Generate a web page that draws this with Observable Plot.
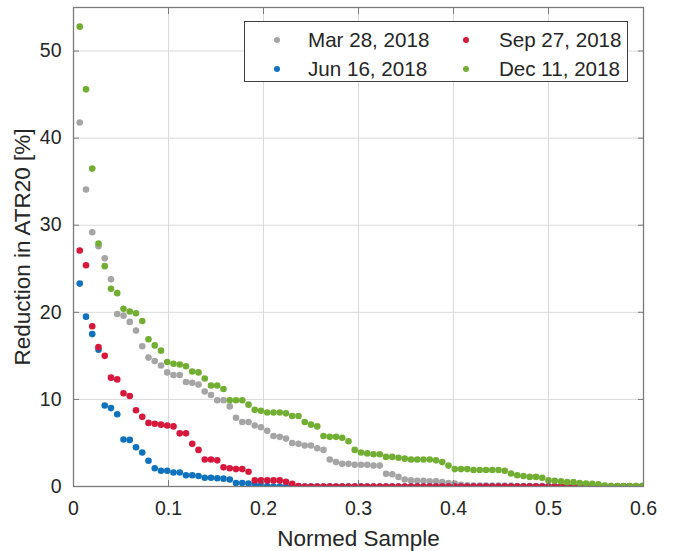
<!DOCTYPE html>
<html>
<head>
<meta charset="utf-8">
<script src="https://cdn.jsdelivr.net/npm/d3@7"></script>
<script src="https://cdn.jsdelivr.net/npm/@observablehq/plot@0.6"></script>
<style>
  html, body { margin: 0; padding: 0; background: #fff; }
  #wrap { position: relative; width: 674px; height: 551px; font-family: "Liberation Sans", Arial, sans-serif; color: #262626; }
  #legend { position: absolute; left: 244px; top: 21px; width: 384px; height: 61px; border: 1px solid #404040; background: #fff; box-sizing: border-box; }
  .li { position: absolute; font-size: 20.6px; line-height: 21px; white-space: nowrap; }
  .dot { position: absolute; width: 6px; height: 6px; border-radius: 50%; }
</style>
</head>
<body>
<div id="wrap"><div id="legend"></div></div>
<script>
// Number of samples used to normalise the sample index
const sampleCount = 152;

const seriesNames = ["Mar 28, 2018", "Jun 16, 2018", "Sep 27, 2018", "Dec 11, 2018"];
const seriesColors = ["#a5a5a5", "#0f72bd", "#d8173c", "#72ae32"];

const xTicks = [0, 0.1, 0.2, 0.3, 0.4, 0.5, 0.6];
const yTicks = [0, 10, 20, 30, 40, 50];

const mar28 = [41.8, 34.1, 29.2, 27.6, 26.2, 23.8, 19.8, 19.6, 18.9, 17.9,
  16.1, 14.8, 14.4, 13.9, 13.1, 12.8, 12.8, 12.0, 11.9, 11.7,
  10.9, 10.5, 9.9, 9.9, 9.2, 7.9, 7.4, 7.4, 7.0, 6.8,
  6.4, 5.8, 5.7, 5.5, 5.0, 4.9, 4.7, 4.7, 4.4, 4.2,
  3.1, 2.8, 2.6, 2.6, 2.5, 2.5, 2.5, 2.4, 2.4, 1.45,
  1.4, 1.1, 0.8, 0.7, 0.65, 0.65, 0.6, 0.6, 0.5, 0.4,
  0.35, 0.2, 0.15, 0.1, 0.1, 0.1, 0.1, 0.1, 0.1, 0.1,
  0.05, 0.05, 0.05, 0.05, 0.05, 0.05, 0.05, 0.05, 0.05, 0.05,
  0.05, 0.05, 0.05, 0.05, 0.05, 0.05, 0.05, 0.05, 0.05, 0.05, 0.05];

const jun16 = [23.3, 19.5, 17.5, 15.7, 9.3, 9.0, 8.3, 5.4, 5.35, 4.5,
  3.9, 2.95, 2.1, 1.8, 1.8, 1.6, 1.6, 1.3, 1.3, 1.2,
  1.0, 1.0, 0.95, 0.9, 0.8, 0.4, 0.4, 0.35, 0.2, 0.15,
  0.05, 0, 0, 0, 0, 0, 0, 0, 0, 0,
  0, 0, 0, 0, 0, 0, 0, 0, 0, 0,
  0, 0, 0, 0, 0, 0, 0, 0, 0, 0,
  0, 0, 0, 0, 0, 0, 0, 0, 0, 0,
  0, 0, 0, 0, 0, 0, 0, 0, 0, 0,
  0, 0, 0, 0, 0, 0, 0, 0, 0, 0, 0];

const sep27 = [27.1, 25.4, 18.4, 16.0, 15.0, 12.5, 12.3, 10.7, 10.4, 8.75,
  8.0, 7.3, 7.2, 7.1, 7.0, 6.9, 6.1, 6.1, 4.9, 4.2,
  3.1, 3.1, 3.0, 2.2, 2.1, 2.0, 2.0, 1.7, 0.7, 0.7,
  0.7, 0.7, 0.7, 0.55, 0.3, 0.05, 0, 0, 0, 0,
  0, 0, 0, 0, 0, 0, 0, 0, 0, 0,
  0, 0, 0, 0, 0, 0, 0, 0, 0, 0,
  0, 0, 0, 0, 0, 0, 0, 0, 0, 0,
  0, 0, 0, 0, 0, 0, 0, 0, 0, 0,
  0, 0, 0, 0, 0, 0, 0, 0, 0, 0, 0];

const dec11 = [52.8, 45.6, 36.5, 27.9, 25.3, 22.7, 22.2, 20.4, 20.1, 19.9,
  19.0, 16.9, 16.2, 15.6, 14.3, 14.1, 14.0, 13.8, 13.2, 13.1,
  12.4, 11.6, 11.6, 11.2, 9.9, 9.9, 9.9, 9.4, 8.8, 8.7,
  8.5, 8.5, 8.5, 8.4, 8.1, 8.1, 7.4, 7.1, 6.9, 5.8,
  5.7, 5.7, 5.6, 5.2, 4.2, 3.9, 3.8, 3.7, 3.7, 3.4,
  3.4, 3.3, 3.2, 3.1, 3.1, 3.1, 3.1, 3.0, 2.8, 2.4,
  2.0, 2.0, 2.0, 1.9, 1.9, 1.9, 1.9, 1.9, 1.8, 1.5,
  1.3, 1.2, 1.1, 1.1, 1.0, 0.7, 0.65, 0.6, 0.5, 0.5,
  0.4, 0.35, 0.3, 0.25, 0.1, 0.05, 0.05, 0.05, 0.05, 0.05, 0.05];

const seriesValues = [mar28, jun16, sep27, dec11];

const rows = [];
seriesValues.forEach((vals, s) => {
  vals.forEach((v, i) => rows.push({series: seriesNames[s], sample: (i + 1) / sampleCount, value: v}));
});

const font = "'Liberation Sans', Arial, sans-serif";
const ink = "#262626";

const chart = Plot.plot({
  width: 674,
  height: 551,
  marginLeft: 73,
  marginRight: 31,
  marginTop: 7,
  marginBottom: 65,
  style: {fontFamily: font, fontSize: "19px", color: ink, background: "#fff", overflow: "visible"},
  x: {domain: [0, 0.6], ticks: xTicks},
  y: {domain: [0, 55], ticks: yTicks},
  color: {domain: seriesNames, range: seriesColors},
  marks: [
    Plot.gridX(xTicks, {stroke: "#d9d9d9", strokeOpacity: 1}),
    Plot.gridY(yTicks, {stroke: "#d9d9d9", strokeOpacity: 1}),
    Plot.dot(rows, {x: "sample", y: "value", fill: "series", r: 3.3, stroke: null, clip: true}),
    Plot.frame({stroke: "#7a7a7a", strokeWidth: 1.3}),
    Plot.axisX(xTicks, {anchor: "bottom", tickSize: -6, stroke: "#7a7a7a", text: null, label: null}),
    Plot.axisX(xTicks, {anchor: "top", tickSize: -6, stroke: "#7a7a7a", text: null, label: null}),
    Plot.axisY(yTicks, {anchor: "left", tickSize: -6, stroke: "#7a7a7a", text: null, label: null}),
    Plot.axisY(yTicks, {anchor: "right", tickSize: -6, stroke: "#7a7a7a", text: null, label: null}),
    Plot.axisX(xTicks, {anchor: "bottom", tickSize: 0, tickPadding: 12, dy: 3, fill: ink, fontSize: 19.5, label: null, tickFormat: d => d === 0 ? "0" : d3.format(".1f")(d)}),
    Plot.axisY(yTicks, {anchor: "left", tickSize: 0, tickPadding: 12, fill: ink, fontSize: 19.5, label: null}),
    Plot.text(["Normed Sample"], {frameAnchor: "bottom", dy: 59, fontSize: 22.5, fill: ink, textAnchor: "middle"}),
    Plot.text(["Reduction in ATR20 [%]"], {frameAnchor: "left", rotate: -90, dx: -51, fontSize: 22.5, fill: ink, textAnchor: "middle"})
  ]
});

const wrap = document.getElementById("wrap");
wrap.insertBefore(chart, wrap.firstChild);

// Legend (HTML overlay), two columns
const legend = document.getElementById("legend");
const colPos = [[32, 63], [221, 254]];
const rowPos = [18, 47];
const order = [[0, 0, 0], [1, 0, 1], [2, 1, 0], [3, 1, 1]];
order.forEach(([s, c, r]) => {
  const dot = document.createElement("div");
  dot.className = "dot";
  dot.style.background = seriesColors[s];
  dot.style.left = (colPos[c][0] - 3) + "px";
  dot.style.top = (rowPos[r] - 3) + "px";
  legend.appendChild(dot);
  const t = document.createElement("div");
  t.className = "li";
  t.textContent = seriesNames[s];
  t.style.left = colPos[c][1] + "px";
  t.style.top = (rowPos[r] - 11) + "px";
  legend.appendChild(t);
});
</script>
</body>
</html>
